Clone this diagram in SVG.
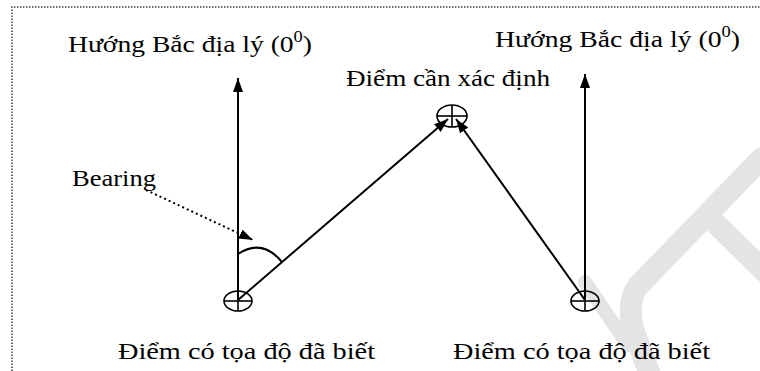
<svg xmlns="http://www.w3.org/2000/svg" width="760" height="371" viewBox="0 0 760 371">
<style>
text{font-family:"Liberation Serif","Times New Roman",serif;font-size:24px;fill:#000}
.ln{stroke:#000;stroke-width:2;fill:none}
.xh{stroke:#000;stroke-width:1.6;fill:none}
.wm{stroke:#e4e4e4;fill:none;stroke-linecap:round}
</style>
<defs>
<marker id="ah" viewBox="0 0 14 10" refX="14" refY="5" markerWidth="14" markerHeight="10" markerUnits="userSpaceOnUse" orient="auto">
<path d="M0,0 L14,5 L0,10 z" fill="#000"/>
</marker>
</defs>
<rect width="760" height="371" fill="#fff"/>
<g id="watermark">
<path class="wm" stroke-width="22" d="M762,158 L638,286 Q626,302 634,332 L652,380"/>
<path class="wm" stroke-width="22" d="M712,220 L765,272"/>
<path class="wm" stroke-width="14" d="M585,282 L628,345"/>
</g>
<path id="border" d="M12,371 L12,7 L760,7" fill="none" stroke="#333" stroke-width="1.4" stroke-dasharray="1.4,1.6"/>
<g id="connectors">
<line class="ln" x1="238" y1="300" x2="238" y2="78" marker-end="url(#ah)"/>
<line class="ln" x1="585" y1="300" x2="585" y2="74" marker-end="url(#ah)"/>
<line class="ln" x1="238" y1="300" x2="448" y2="119" marker-end="url(#ah)"/>
<line class="ln" x1="585" y1="300" x2="456" y2="119" marker-end="url(#ah)"/>
<line x1="146" y1="190" x2="253" y2="240" stroke="#000" stroke-width="2" stroke-dasharray="2,3" marker-end="url(#ah)"/>
<path class="ln" stroke-width="1.6" d="M238,254 Q262,238 282,262"/>
</g>
<g id="known-left">
<ellipse class="xh" cx="238" cy="301" rx="14" ry="10"/>
<line class="xh" x1="224" y1="301" x2="252" y2="301"/>
<line class="xh" x1="238" y1="301" x2="238" y2="311"/>
<text x="118" y="359" textLength="257" lengthAdjust="spacingAndGlyphs">Điểm có tọa độ đã biết</text>
</g>
<g id="known-right">
<ellipse class="xh" cx="585" cy="301" rx="14" ry="10"/>
<line class="xh" x1="571" y1="301" x2="599" y2="301"/>
<line class="xh" x1="585" y1="301" x2="585" y2="311"/>
<text x="453" y="359" textLength="257" lengthAdjust="spacingAndGlyphs">Điểm có tọa độ đã biết</text>
</g>
<g id="target">
<ellipse class="xh" cx="452" cy="116" rx="15" ry="11"/>
<line class="xh" x1="437" y1="116" x2="467" y2="116"/>
<line class="xh" x1="452" y1="105" x2="452" y2="127"/>
<text x="346" y="86" textLength="204" lengthAdjust="spacingAndGlyphs">Điểm cần xác định</text>
</g>
<g id="north-left">
<text x="68" y="52" textLength="244" lengthAdjust="spacingAndGlyphs">Hướng Bắc địa lý (0<tspan font-size="16" dy="-10">0</tspan><tspan dy="10">)</tspan></text>
</g>
<g id="north-right">
<text x="495" y="47" textLength="245" lengthAdjust="spacingAndGlyphs">Hướng Bắc địa lý (0<tspan font-size="16" dy="-10">0</tspan><tspan dy="10">)</tspan></text>
</g>
<g id="bearing">
<text x="72" y="186" textLength="84" lengthAdjust="spacingAndGlyphs">Bearing</text>
</g>
</svg>
